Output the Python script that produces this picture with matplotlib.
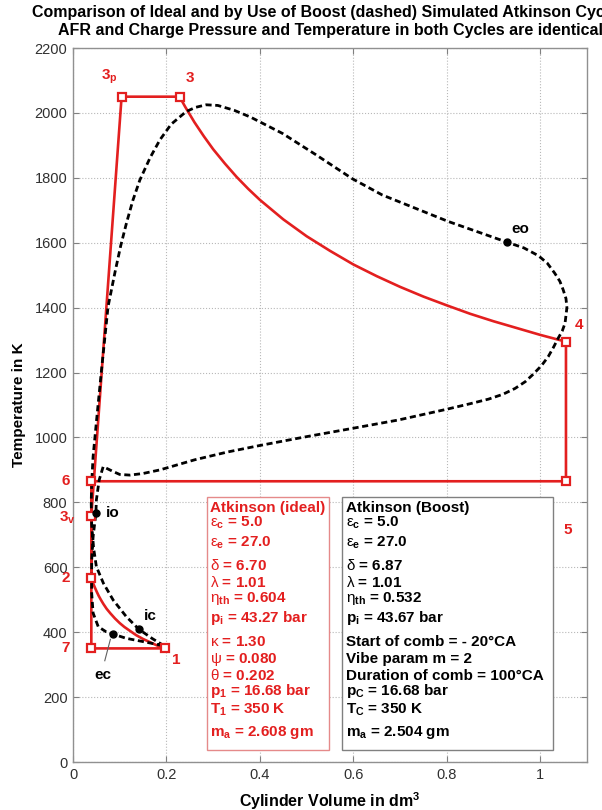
import matplotlib
matplotlib.use('Agg')
import matplotlib.pyplot as plt
from matplotlib.patches import Rectangle

plt.rcParams.update({
    'font.family': ['Liberation Sans', 'DejaVu Sans'],
    'mathtext.fontset': 'custom',
    'mathtext.rm': 'Liberation Sans',
    'mathtext.bf': 'Liberation Sans:bold',
    'mathtext.it': 'Liberation Sans:italic',
    'mathtext.default': 'bf',
})

# ---------------- data ----------------
# ideal cycle, compression 1 -> 2
comp_V = [0.196, 0.180, 0.165, 0.150, 0.135, 0.120, 0.110, 0.100, 0.090, 0.080,
          0.072, 0.065, 0.060, 0.055, 0.051, 0.047, 0.043, 0.0392]
comp_T = [350, 359, 369, 379, 391, 406, 416, 428, 442, 458,
          472, 487, 499, 512, 524, 537, 551, 567]
# ideal cycle, expansion 3 -> 4
exp_V = [0.228, 0.240, 0.250, 0.260, 0.280, 0.300, 0.325, 0.350, 0.375, 0.400,
         0.450, 0.500, 0.550, 0.600, 0.650, 0.700, 0.750, 0.800, 0.850, 0.900,
         0.950, 1.000, 1.055]
exp_T = [2050, 2019, 1995, 1971, 1928, 1888, 1844, 1803, 1766, 1732,
         1672, 1620, 1575, 1533, 1497, 1464, 1434, 1407, 1381, 1358,
         1337, 1316, 1295]
# ideal cycle state points
state_names = ['1', '2', '3$_v$', '3$_p$', '3', '4', '5', '6', '7']
state_V = [0.196, 0.0392, 0.0392, 0.104, 0.228, 1.055, 1.055, 0.0392, 0.0392]
state_T = [350, 567, 758, 2050, 2050, 1295, 865, 865, 350]

# simulated (boost) cycle, closed loop
boost_V = [0.195, 0.170, 0.141, 0.114, 0.086, 0.065, 0.050, 0.044, 0.040, 0.039,
           0.040, 0.043, 0.0505, 0.061, 0.075, 0.090, 0.102, 0.1145, 0.128, 0.143,
           0.165, 0.186, 0.210, 0.242, 0.262, 0.285, 0.310, 0.345, 0.380, 0.448,
           0.520, 0.598, 0.662, 0.733, 0.804, 0.875, 0.928, 0.965, 0.996, 1.015,
           1.031, 1.042, 1.049, 1.055, 1.057, 1.053, 1.047, 1.038, 1.028, 1.017,
           1.003, 0.985, 0.968, 0.946, 0.920, 0.889, 0.850, 0.800, 0.697, 0.598,
           0.498, 0.399, 0.330, 0.260, 0.186, 0.150, 0.122, 0.100, 0.086, 0.0646,
           0.056, 0.050, 0.049, 0.043, 0.040, 0.040, 0.043, 0.054, 0.070, 0.086,
           0.114, 0.150, 0.195]
boost_T = [358, 380, 409, 448, 499, 551, 602, 660, 730, 800,
           860, 941, 1054, 1208, 1403, 1510, 1590, 1661, 1730, 1793,
           1862, 1917, 1965, 2004, 2017, 2025, 2023, 2008, 1987, 1937,
           1871, 1797, 1747, 1706, 1665, 1629, 1602, 1584, 1560, 1537,
           1506, 1481, 1455, 1428, 1400, 1352, 1328, 1305, 1277, 1249,
           1222, 1195, 1172, 1151, 1133, 1118, 1104, 1087, 1054, 1028,
           1002, 975, 955, 931, 900, 889, 884, 886, 895, 910,
           869, 807, 766, 694, 622, 520, 459, 417, 402, 394,
           381, 371, 358]
# valve events on the boost cycle
event_names = ['ic', 'ec', 'io', 'eo']
event_V = [0.141, 0.086, 0.049, 0.928]
event_T = [409, 394, 766, 1602]

x_ticks = [0, 0.2, 0.4, 0.6, 0.8, 1.0]
x_ticklabels = ['0', '0.2', '0.4', '0.6', '0.8', '1']
y_ticks = [0, 200, 400, 600, 800, 1000, 1200, 1400, 1600, 1800, 2000, 2200]

ideal_lines = ["Atkinson (ideal)",
               r"$\mathrm{ε}_c$ = 5.0",
               r"$\mathrm{ε}_e$ = 27.0",
               r"$\mathrm{δ}$ = 6.70",
               r"$\mathrm{λ}$ = 1.01",
               r"$\mathrm{η}_{th}$ = 0.604",
               r"p$_i$ = 43.27 bar",
               r"$\mathrm{κ}$ = 1.30",
               r"$\mathrm{ψ}$ = 0.080",
               r"$\mathrm{θ}$ = 0.202",
               r"p$_1$ = 16.68 bar",
               r"T$_1$ = 350 K",
               r"m$_a$ = 2.608 gm"]
boost_lines = ["Atkinson (Boost)",
               r"$\mathrm{ε}_c$ = 5.0",
               r"$\mathrm{ε}_e$ = 27.0",
               r"$\mathrm{δ}$ = 6.87",
               r"$\mathrm{λ}$ = 1.01",
               r"$\mathrm{η}_{th}$ = 0.532",
               r"p$_i$ = 43.67 bar",
               "Start of comb = - 20°CA",
               "Vibe param m = 2",
               "Duration of comb = 100°CA",
               r"p$_C$ = 16.68 bar",
               r"T$_C$ = 350 K",
               r"m$_a$ = 2.504 gm"]

# ---------------- figure ----------------
RED = '#e31f1f'
fig = plt.figure(figsize=(6.02, 8.10), dpi=100)
ax = fig.add_axes([73/602, 48/810, 514/602, 714/810])

# ideal cycle path
path_V = comp_V + [state_V[2], state_V[3]] + exp_V + [state_V[6], state_V[7], state_V[8], state_V[0]]
path_T = comp_T + [state_T[2], state_T[3]] + exp_T + [state_T[6], state_T[7], state_T[8], state_T[0]]
ax.plot(path_V, path_T, color=RED, lw=1.9, zorder=4, solid_joinstyle='round')
ax.plot(state_V, state_T, ls='none', marker='s', ms=6, mfc='white', mec=RED, mew=1.6, zorder=5)

# boost cycle
ax.plot(boost_V, boost_T, color='black', lw=2.0, ls=(0, (2.2, 1.3)), zorder=4)
ax.plot(event_V, event_T, ls='none', marker='o', ms=5, color='black', zorder=6)

# state labels
state_label_pos = {'1': (0.222, 314), '2': (-0.016, 567), '3$_v$': (-0.012, 752),
                   '3$_p$': (0.078, 2112), '3': (0.250, 2108), '4': (1.082, 1347),
                   '5': (1.058, 715), '6': (-0.016, 866), '7': (-0.016, 350)}
for name in state_names:
    x, y = state_label_pos[name]
    ax.text(x, y, name, color=RED, fontsize=11, fontweight='bold',
            ha='center', va='center', clip_on=False, zorder=7)

event_label_pos = {'ic': (0.165, 450), 'ec': (0.063, 268), 'io': (0.086, 767), 'eo': (0.958, 1642)}
for name in event_names:
    x, y = event_label_pos[name]
    ax.text(x, y, name, color='black', fontsize=11, fontweight='bold',
            ha='center', va='center', zorder=7)
ax.plot([0.080, 0.068], [378, 312], color='#606060', lw=0.8, zorder=5)

# parameter boxes
line_T = [783, 737, 675, 604, 552, 505, 444, 370, 317, 265, 219, 160, 92]
ax.add_patch(Rectangle((0.286, 36), 0.262, 781, facecolor='white',
                       edgecolor='#e58a8a', lw=1.0, zorder=3))
ax.add_patch(Rectangle((0.576, 36), 0.452, 781, facecolor='white',
                       edgecolor='#808080', lw=1.0, zorder=3))
for s, y in zip(ideal_lines, line_T):
    ax.text(0.294, y, s, color=RED, fontsize=11, fontweight='bold', ha='left', va='center', zorder=4)
for s, y in zip(boost_lines, line_T):
    ax.text(0.584, y, s, color='black', fontsize=11, fontweight='bold', ha='left', va='center', zorder=4)

# axes styling
ax.set_xlim(0, 1.1)
ax.set_ylim(0, 2200)
ax.set_xticks(x_ticks)
ax.set_xticklabels(x_ticklabels)
ax.set_yticks(y_ticks)
ax.grid(True, ls=':', color='#b8b8b8', lw=0.8, zorder=0)
ax.set_axisbelow(True)
ax.tick_params(direction='in', top=True, right=True, length=4, width=0.8,
               color='#808080', labelsize=10.5, labelcolor='#303030', pad=4)
for sp in ax.spines.values():
    sp.set_color('#909090')
    sp.set_linewidth(1.0)

ax.set_xlabel('Cylinder Volume in dm$^3$', fontsize=11.5, fontweight='bold', labelpad=6)
ax.set_ylabel('Temperature in K', fontsize=11, fontweight='bold', labelpad=6)
ax.set_title('Comparison of Ideal and by Use of Boost (dashed) Simulated Atkinson Cycles\n'
             'AFR and Charge Pressure and Temperature in both Cycles are identical',
             fontsize=11.5, fontweight='bold', linespacing=1.25, pad=9)

fig.savefig('out.png', dpi=100)
